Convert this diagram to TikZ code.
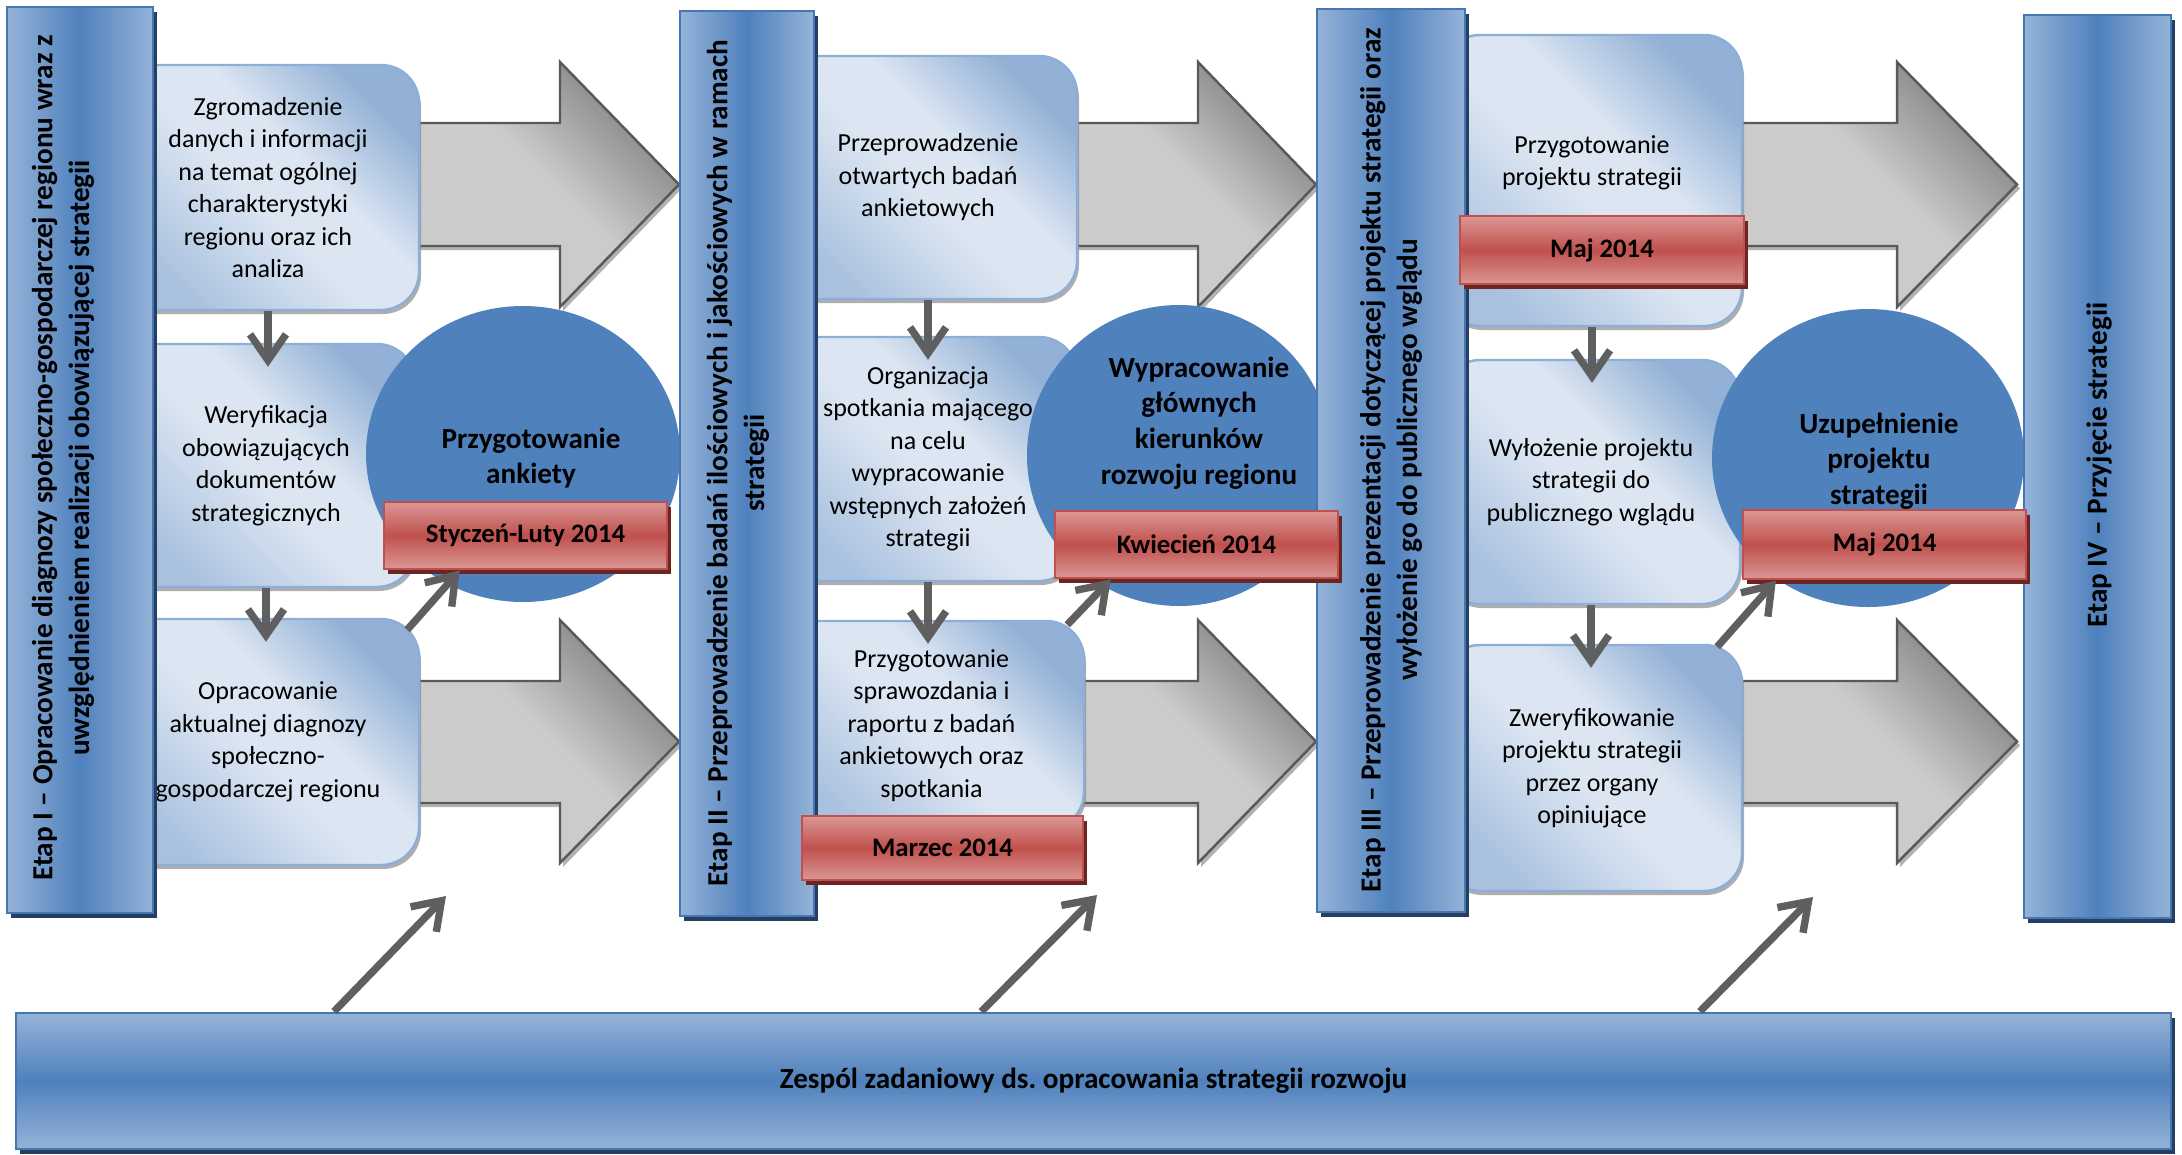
\documentclass[tikz,border=0pt]{standalone}
\usepackage{fontspec}
\setmainfont{Carlito}
\usetikzlibrary{positioning,calc,shapes.geometric,shadows,arrows.meta}
\frenchspacing

\definecolor{barlight}{HTML}{95B3D7}
\definecolor{bardark}{HTML}{4F81BD}
\definecolor{barline}{HTML}{4576B5}
\definecolor{barshadow}{HTML}{243F60}
\definecolor{boxlight}{HTML}{DCE6F2}
\definecolor{boxmid}{HTML}{A9C1DF}
\definecolor{boxdark}{HTML}{93B1D6}
\definecolor{boxline}{HTML}{8DAED6}
\definecolor{discblue}{HTML}{4F81BD}
\definecolor{redlight}{HTML}{DA9795}
\definecolor{reddark}{HTML}{C0504D}
\definecolor{redline}{HTML}{C0504D}
\definecolor{redshadow}{HTML}{6B2523}
\definecolor{arrowlight}{HTML}{CBCBCB}
\definecolor{arrowdark}{HTML}{7F7F7F}
\definecolor{arrowline}{HTML}{595959}
\definecolor{flowgray}{HTML}{5F5F5F}

\pgfdeclarehorizontalshading{boxshade}{100bp}{color(0bp)=(boxmid); color(25bp)=(boxmid); color(47bp)=(boxlight); color(58bp)=(boxlight); color(75bp)=(boxdark); color(100bp)=(boxdark)}
\pgfdeclarehorizontalshading{arrowshade}{100bp}{color(0bp)=(arrowlight); color(25bp)=(arrowlight); color(52bp)=(arrowlight); color(75bp)=(arrowdark); color(100bp)=(arrowdark)}

\begin{document}
\begin{tikzpicture}[
  stage/.style={draw=barline, line width=0.8pt, left color=barlight, right color=barlight, middle color=bardark,
    drop shadow={shadow xshift=0.04cm, shadow yshift=-0.05cm, fill=barshadow, opacity=1}},
  stagetext/.style={rotate=90, align=center, font=\bfseries\fontsize{8.3}{10.4}\selectfont},
  box/.style={draw=boxline, line width=0.7pt, rounded corners=0.38cm, shade, shading=boxshade, shading angle=45,
    align=center, inner sep=0pt, font=\fontsize{7.4}{9.25}\selectfont,
    drop shadow={shadow xshift=0.02cm, shadow yshift=-0.04cm, fill=black!45, opacity=0.7}},
  boxtext/.style={align=center, font=\fontsize{7.4}{9.25}\selectfont},
  disc/.style={ellipse, fill=discblue, inner sep=0pt},
  disctext/.style={align=center, font=\bfseries\fontsize{8.3}{10.15}\selectfont},
  datebox/.style={draw=redline, line width=0.8pt, top color=redlight, bottom color=redlight, middle color=reddark,
    inner sep=0pt, font=\bfseries\fontsize{7.6}{9}\selectfont,
    drop shadow={shadow xshift=0.04cm, shadow yshift=-0.05cm, fill=redshadow, opacity=1}},
  bigarrow/.style={draw=arrowline, line width=0.7pt, shade, shading=arrowshade, shading angle=45,
    drop shadow={shadow xshift=0.03cm, shadow yshift=-0.04cm, fill=black!30, opacity=1}},
  flow/.style={draw=flowgray, line width=2.1pt, -{Straight Barb[length=0.26cm, width=0.36cm]}},
  down/.style={flow, shorten >=-0.24cm}
]
\useasboundingbox (0,0) rectangle (21.82,-11.54);

\draw[bigarrow] (4.00,-1.23) -- (5.60,-1.23) -- (5.60,-0.62) -- (6.79,-1.845) -- (5.60,-3.07) -- (5.60,-2.46) -- (4.00,-2.46) -- cycle;
\draw[bigarrow] (4.00,-6.81) -- (5.60,-6.81) -- (5.60,-6.20) -- (6.79,-7.415) -- (5.60,-8.63) -- (5.60,-8.03) -- (4.00,-8.03) -- cycle;
\draw[bigarrow] (10.60,-1.23) -- (11.98,-1.23) -- (11.98,-0.62) -- (13.16,-1.845) -- (11.98,-3.07) -- (11.98,-2.46) -- (10.60,-2.46) -- cycle;
\draw[bigarrow] (10.60,-6.81) -- (11.98,-6.81) -- (11.98,-6.20) -- (13.16,-7.415) -- (11.98,-8.63) -- (11.98,-8.03) -- (10.60,-8.03) -- cycle;
\draw[bigarrow] (17.30,-1.23) -- (18.97,-1.23) -- (18.97,-0.62) -- (20.17,-1.845) -- (18.97,-3.07) -- (18.97,-2.46) -- (17.30,-2.46) -- cycle;
\draw[bigarrow] (17.30,-6.81) -- (18.97,-6.81) -- (18.97,-6.20) -- (20.17,-7.415) -- (18.97,-8.63) -- (18.97,-8.03) -- (17.30,-8.03) -- cycle;

\node[box, minimum width=3.02cm, minimum height=2.45cm] (b11) at (2.68,-1.875) {Zgromadzenie\\danych i informacji\\na temat ogólnej\\charakterystyki\\regionu oraz ich\\analiza};
\node[box, minimum width=2.98cm, minimum height=2.43cm] (b12) at (2.66,-4.655) {Weryfikacja\\obowiązujących\\dokumentów\\strategicznych};
\node[box, minimum width=3.02cm, minimum height=2.46cm] (b13) at (2.68,-7.42) {Opracowanie\\aktualnej diagnozy\\społeczno-\\gospodarczej regionu};

\node[box, minimum width=2.98cm, minimum height=2.43cm] (b21) at (9.28,-1.775) {Przeprowadzenie\\otwartych badań\\ankietowych};
\node[box, minimum width=2.98cm, minimum height=2.44cm] (b22) at (9.28,-4.59) {Organizacja\\spotkania mającego\\na celu\\wypracowanie\\wstępnych założeń\\strategii};
\node[box, minimum width=3.05cm, minimum height=2.09cm] (b23) at (9.315,-7.255) {Przygotowanie\\sprawozdania i\\raportu z badań\\ankietowych oraz\\spotkania};

\node[box, minimum width=3.00cm, minimum height=2.91cm] (b31) at (15.92,-1.805) {};
\node[boxtext] (b31t) at (15.92,-1.63) {Przygotowanie\\projektu strategii};
\node[box, minimum width=2.98cm, minimum height=2.44cm] (b32) at (15.91,-4.82) {Wyłożenie projektu\\strategii do\\publicznego wglądu};
\node[box, minimum width=3.00cm, minimum height=2.46cm] (b33) at (15.92,-7.68) {Zweryfikowanie\\projektu strategii\\przez organy\\opiniujące};

\node[disc, minimum width=3.14cm, minimum height=2.96cm] (c1) at (5.23,-4.54) {};
\node[disctext] (c1t) at (5.31,-4.58) {Przygotowanie\\ankiety};
\node[disc, minimum width=3.04cm, minimum height=3.01cm] (c2) at (11.79,-4.555) {};
\node[disctext] (c2t) at (11.99,-4.23) {Wypracowanie\\głównych\\kierunków\\rozwoju regionu};
\node[disc, minimum width=3.12cm, minimum height=2.98cm] (c3) at (18.68,-4.58) {};
\node[disctext] (c3t) at (18.79,-4.61) {Uzupełnienie\\projektu\\strategii};

\node[stage, minimum width=1.46cm, minimum height=9.06cm] (e1) at (0.80,-4.60) {};
\node[stagetext] (e1t) at (0.63,-4.58) {Etap I – Opracowanie diagnozy społeczno-gospodarczej regionu wraz z\\uwzględnieniem realizacji obowiązującej strategii};
\node[stage, minimum width=1.34cm, minimum height=9.05cm] (e2) at (7.47,-4.635) {};
\node[stagetext] (e2t) at (7.38,-4.63) {Etap II – Przeprowadzenie badań ilościowych i jakościowych w ramach\\strategii};
\node[stage, minimum width=1.48cm, minimum height=9.03cm] (e3) at (13.91,-4.605) {};
\node[stagetext] (e3t) at (13.91,-4.60) {Etap III – Przeprowadzenie prezentacji dotyczącej projektu strategii oraz\\wyłożenie go do publicznego wglądu};
\node[stage, minimum width=1.47cm, minimum height=9.03cm] (e4) at (20.975,-4.665) {};
\node[stagetext] (e4t) at (20.99,-4.65) {Etap IV – Przyjęcie strategii};

\node[stage, top color=barlight, bottom color=barlight, middle color=bardark, minimum width=21.55cm, minimum height=1.36cm,
  font=\bfseries\fontsize{8.3}{10.4}\selectfont] (zs) at (10.935,-10.81) {Zespól zadaniowy ds. opracowania strategii rozwoju};

\node[datebox, minimum width=2.83cm, minimum height=0.67cm] (d1) at (5.255,-5.355) {Styczeń-Luty 2014};
\node[datebox, minimum width=2.81cm, minimum height=0.64cm] (d2) at (9.425,-8.48) {Marzec 2014};
\node[datebox, minimum width=2.83cm, minimum height=0.67cm] (d3) at (11.965,-5.445) {Kwiecień 2014};
\node[datebox, minimum width=2.84cm, minimum height=0.68cm] (d4) at (16.02,-2.50) {Maj 2014};
\node[datebox, minimum width=2.83cm, minimum height=0.69cm] (d5) at (18.845,-5.445) {Maj 2014};

\draw[down] (b11.south) -- (b11.south |- b12.north);
\draw[down] (b12.south) -- (b12.south |- b13.north);
\draw[down] (b21.south) -- (b21.south |- b22.north);
\draw[down] (b22.south) -- (b22.south |- b23.north);
\draw[down] (b31.south) -- (b31.south |- b32.north);
\draw[down] (b32.south) -- (b32.south |- b33.north);

\draw[flow] ([shift={(-0.13,-0.12)}]b13.north east) -- ($(d1.south west)!0.27!(d1.south east)$);
\draw[flow] ([shift={(-0.18,-0.05)}]b23.north east) -- ($(d3.south west)!0.20!(d3.south east)$);
\draw[flow] ([shift={(-0.26,-0.03)}]b33.north east) -- ($(d5.south west)!0.12!(d5.south east)$);

\coordinate (p1) at (4.46,-8.96);
\coordinate (p2) at (10.97,-8.95);
\coordinate (p3) at (18.13,-8.97);
\draw[flow] ($(zs.north west)!0.148!(zs.north east)$) -- (p1);
\draw[flow] ($(zs.north west)!0.448!(zs.north east)$) -- (p2);
\draw[flow] ($(zs.north west)!0.781!(zs.north east)$) -- (p3);

\end{tikzpicture}
\end{document}
